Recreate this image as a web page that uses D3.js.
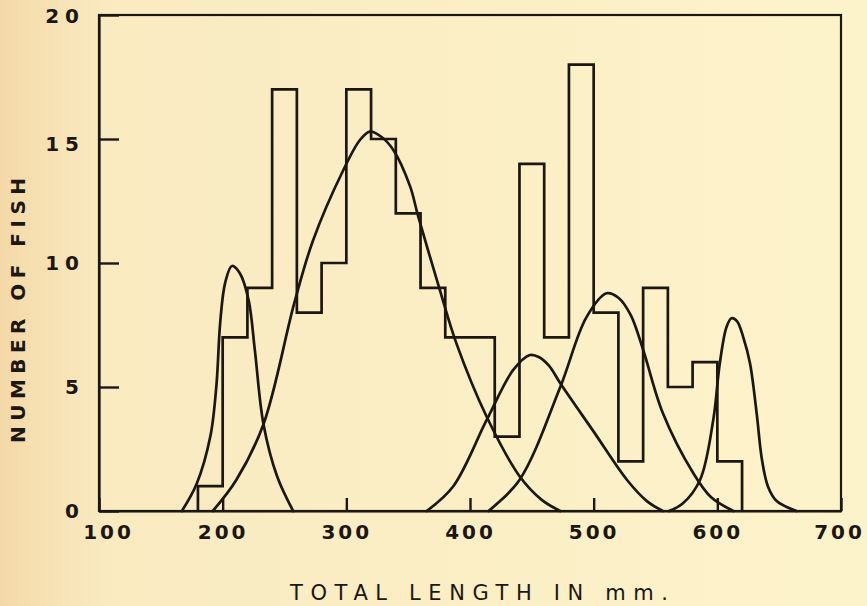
<!DOCTYPE html>
<html>
<head>
<meta charset="utf-8">
<script src="https://cdnjs.cloudflare.com/ajax/libs/d3/7.8.5/d3.min.js"></script>
<style>
  body { margin: 0; background: #fcf0c6; }
  svg { display: block; }
  .tick text { font-family: "DejaVu Sans", sans-serif; font-size: 20px; font-weight: bold; fill: #1c1712; }
</style>
</head>
<body>
<div id="chart"></div>
<script>
var svgWidth = 867;
var svgHeight = 606;

// histogram: left edge of each 20 mm class and number of fish
var binStarts = [180, 200, 220, 240, 260, 280, 300, 320, 340, 360, 380,
                 400, 420, 440, 460, 480, 500, 520, 540, 560, 580, 600];
var binCounts = [1, 7, 9, 17, 8, 10, 17, 15, 12, 9, 7,
                 7, 3, 14, 7, 18, 8, 2, 9, 5, 6, 2];
var binWidth = 20;

// fitted curves, points [length, count]
var curveA = [[167, 0], [179, 1.1], [190, 3.0], [195, 5.1], [198, 7.6], [202, 9.2],
              [207.5, 9.88], [214, 9.58], [221, 8.5], [226, 6.5], [233, 3.5], [244, 1.4], [257, 0]];
var curveB = [[192, 0], [211, 1.25], [233, 3.5], [258, 8.4], [273, 10.9], [297.6, 13.75],
              [311, 14.96], [319, 15.3], [328, 15.1], [338, 14.56], [351.5, 13.1], [358, 11.9],
              [375.7, 8.9], [389, 6.76], [413.5, 3.8], [440.4, 1.38], [458, 0.45], [473, 0]];
var curveC = [[365, 0], [386.5, 1.0], [413.5, 3.67], [435, 5.69], [448.5, 6.29], [456, 6.2],
              [464, 5.85], [473, 5.15], [500, 3.2], [527, 1.25], [543, 0.4], [556, 0]];
var curveD = [[415, 0], [440, 1.25], [473, 5.0], [494, 7.8], [510.5, 8.78], [520, 8.6], [530, 7.9],
              [540, 6.5], [556, 3.94], [580.6, 1.52], [595, 0.55], [613, 0]];
var curveE = [[561, 0], [572, 0.3], [586, 1.25], [596.7, 3.67], [602, 5.96], [607.5, 7.43],
              [611.5, 7.77], [616, 7.65], [621, 7.0], [626.4, 5.96], [631.8, 3.94], [636, 2.1],
              [641, 0.98], [648, 0.4], [664, 0]];

var xTicks = [100, 200, 300, 400, 500, 600, 700];
var yTicks = [0, 5, 10, 15, 20];

var ink = "#1c1712";

var svg = d3.select("#chart")
  .append("svg")
  .attr("width", svgWidth)
  .attr("height", svgHeight);

// paper
var grad = svg.append("defs").append("linearGradient")
  .attr("id", "paper")
  .attr("x1", "0").attr("x2", "1").attr("y1", "0").attr("y2", "0");
grad.append("stop").attr("offset", "0").attr("stop-color", "#f4d9a8");
grad.append("stop").attr("offset", "0.12").attr("stop-color", "#f9eac0");
grad.append("stop").attr("offset", "1").attr("stop-color", "#fdf3cb");

svg.append("rect")
  .attr("width", svgWidth)
  .attr("height", svgHeight)
  .attr("fill", "url(#paper)");

var x = d3.scaleLinear().domain([100, 700]).range([99, 841]);
var y = d3.scaleLinear().domain([0, 20]).range([511, 15]);

// frame
svg.append("rect")
  .attr("x", x(100))
  .attr("y", y(20))
  .attr("width", x(700) - x(100))
  .attr("height", y(0) - y(20))
  .attr("fill", "none")
  .attr("stroke", ink)
  .attr("stroke-width", 2.2);

// axes with inward ticks
var yAxis = svg.append("g")
  .attr("transform", `translate(${x(100)}, 0)`)
  .call(d3.axisLeft(y).tickValues(yTicks).tickSizeInner(-20).tickSizeOuter(0).tickPadding(19));

yAxis.selectAll("text")
  .attr("letter-spacing", "6px")
  .attr("dx", 5)
  .attr("dy", d => d === 15 ? "0.55em" : (d === 20 ? "0.38em" : "0.32em"));

var xAxis = svg.append("g")
  .attr("transform", `translate(0, ${y(0)})`)
  .call(d3.axisBottom(x).tickValues(xTicks).tickSizeInner(-13).tickSizeOuter(0).tickPadding(14));

xAxis.selectAll("text")
  .attr("letter-spacing", "3px")
  .attr("dx", d => d === 100 ? 9 : (d === 700 ? -2 : 0));

svg.selectAll(".domain").attr("stroke", ink).attr("stroke-width", 2.2);
svg.selectAll(".tick line").attr("stroke", ink).attr("stroke-width", 2.4);

// histogram outline
var stepPoints = [[binStarts[0], 0]];
binStarts.forEach((s, i) => stepPoints.push([s, binCounts[i]]));
stepPoints.push([binStarts[binStarts.length - 1] + binWidth, 0]);

var stepLine = d3.line()
  .x(d => x(d[0]))
  .y(d => y(d[1]))
  .curve(d3.curveStepAfter);

svg.append("path")
  .datum(stepPoints)
  .attr("d", stepLine)
  .attr("fill", "none")
  .attr("stroke", ink)
  .attr("stroke-width", 2.7)
  .attr("stroke-linejoin", "miter");

// curves
var smooth = d3.line()
  .x(d => x(d[0]))
  .y(d => y(d[1]))
  .curve(d3.curveCatmullRom.alpha(0.5));

svg.selectAll(".fit")
  .data([curveA, curveB, curveC, curveD, curveE])
  .enter()
  .append("path")
  .attr("class", "fit")
  .attr("d", smooth)
  .attr("fill", "none")
  .attr("stroke", ink)
  .attr("stroke-width", 2.7)
  .attr("stroke-linecap", "round");

// axis titles
svg.append("text")
  .attr("x", 290)
  .attr("y", 600)
  .attr("textLength", 378)
  .attr("lengthAdjust", "spacing")
  .attr("font-family", "DejaVu Sans, sans-serif")
  .attr("font-size", "21px")
  .attr("fill", ink)
  .text("TOTAL LENGTH IN mm.");

svg.append("text")
  .attr("transform", "translate(25, 443) rotate(-90)")
  .attr("textLength", 265)
  .attr("lengthAdjust", "spacing")
  .attr("font-family", "DejaVu Sans, sans-serif")
  .attr("font-size", "20px")
  .attr("font-weight", "bold")
  .attr("fill", ink)
  .text("NUMBER OF FISH");
</script>
</body>
</html>
